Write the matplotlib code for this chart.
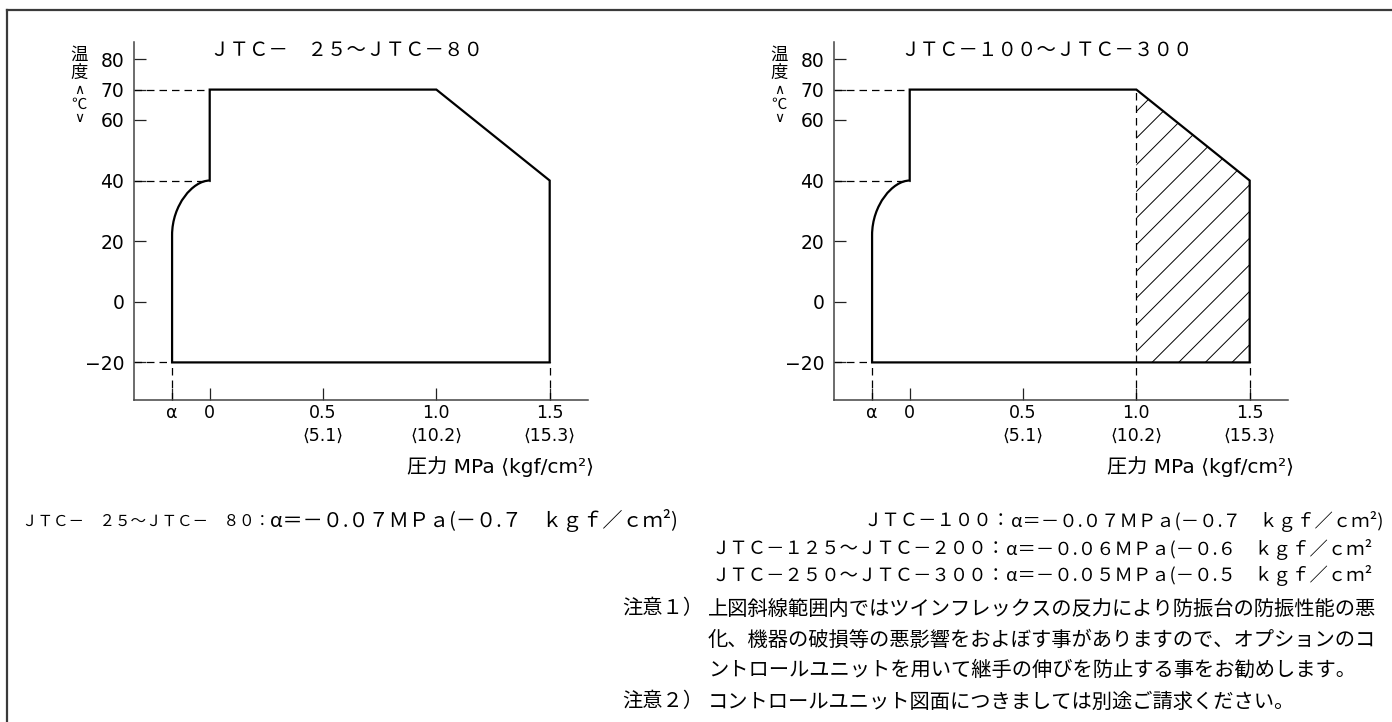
import matplotlib
matplotlib.use("Agg")
import matplotlib.pyplot as plt
from matplotlib.path import Path
from matplotlib.patches import PathPatch, Polygon
from matplotlib.lines import Line2D
import numpy as np

# ---- data ----
alpha = -0.166            # drawn position of alpha on the pressure axis (schematic)
curve_top = 40            # temperature where the rounded corner meets x=0
curve_bottom = 22         # temperature where the rounded corner leaves x=alpha
t_min, t_max = -20, 70
p_knee, t_knee = 1.0, 70  # start of the sloped edge
p_max, t_end = 1.5, 40    # end of the sloped edge

y_ticks = [-20, 0, 20, 40, 60, 70, 80]
y_labels = ["\u221220", "0", "20", "40", "60", "70", "80"]
x_ticks = [alpha, 0, 0.5, 1.0, 1.5]
x_labels = ["\u03b1", "0", "0.5\n\u27e85.1\u27e9", "1.0\n\u27e810.2\u27e9", "1.5\n\u27e815.3\u27e9"]

titles = ["ＪＴＣ－　２５～ＪＴＣ－８０",
          "ＪＴＣ－１００～ＪＴＣ－３００"]
x_title = "\u5727\u529b MPa \u27e8kgf/cm\u00b2\u27e9"

# alpha values per model group
alpha_lines = [
    ("ＪＴＣ－　２５～ＪＴＣ－　８０：", "α＝－０.０７ＭＰａ(－０.７　ｋｇｆ／ｃｍ²)"),
    ("ＪＴＣ－１００：", "α＝－０.０７ＭＰａ(－０.７　ｋｇｆ／ｃｍ²)"),
    ("ＪＴＣ－１２５～ＪＴＣ－２００：", "α＝－０.０６ＭＰａ(－０.６　ｋｇｆ／ｃｍ²"),
    ("ＪＴＣ－２５０～ＪＴＣ－３００：", "α＝－０.０５ＭＰａ(－０.５　ｋｇｆ／ｃｍ²"),
]
notes = [
    ("注意１）", "上図斜線範囲内ではツインフレックスの反力により防振台の防振性能の悪"),
    ("", "化、機器の破損等の悪影響をおよぼす事がありますので、オプションのコ"),
    ("", "ントロールユニットを用いて継手の伸びを防止する事をお勧めします。"),
    ("注意２）", "コントロールユニット図面につきましては別途ご請求ください。"),
]

W, H = 1392, 722
JP = ["Noto Sans CJK JP", "DejaVu Sans"]
LAT = ["DejaVu Sans", "Noto Sans CJK JP"]

fig = plt.figure(figsize=(W / 100, H / 100), dpi=100)
fig.patch.set_facecolor("white")


def fx(px):
    return px / W


def fy(py):
    return 1 - py / H


# outer frame (top and left edge only, the rest is cut off)
fig.add_artist(Line2D([fx(7), fx(W)], [fy(10), fy(10)], color="#3a3a3a", lw=1.6))
fig.add_artist(Line2D([fx(7), fx(7)], [fy(10), fy(H)], color="#3a3a3a", lw=1.6))


def draw_chart(left_px, title, hatched):
    ax = fig.add_axes([fx(left_px), fy(400), 454 / W, 358 / H])
    xmin, xmax = -0.334, 1.669
    ymin, ymax = -32.4, 85.7
    ax.set_xlim(xmin, xmax)
    ax.set_ylim(ymin, ymax)
    for s in ["top", "right"]:
        ax.spines[s].set_visible(False)
    for s in ["left", "bottom"]:
        ax.spines[s].set_color("#444444")
        ax.spines[s].set_linewidth(1.1)

    ax.set_yticks(y_ticks)
    ax.set_yticklabels(y_labels, fontsize=13.5, family=LAT)
    ax.set_xticks(x_ticks)
    ax.set_xticklabels(x_labels, fontsize=12.5, family=LAT, linespacing=1.3)
    ax.tick_params(axis="both", direction="in", length=8.5, width=0.9, color="#222222")
    ax.tick_params(axis="y", pad=7)
    ax.tick_params(axis="x", pad=3)

    # operating range outline
    verts = [(alpha, t_min), (alpha, curve_bottom),
             (alpha, curve_bottom + 0.55 * (curve_top - curve_bottom)),
             (alpha * 0.45, curve_top), (0, curve_top),
             (0, t_max), (p_knee, t_knee), (p_max, t_end), (p_max, t_min),
             (alpha, t_min)]
    codes = [Path.MOVETO, Path.LINETO, Path.CURVE4, Path.CURVE4, Path.CURVE4,
             Path.LINETO, Path.LINETO, Path.LINETO, Path.LINETO, Path.CLOSEPOLY]
    ax.add_patch(PathPatch(Path(verts, codes), facecolor="none", edgecolor="black",
                           lw=1.6, joinstyle="miter", zorder=3))

    # dashed guides
    dash = dict(color="black", lw=0.9, linestyle=(0, (6, 4)), clip_on=False, zorder=2)
    ax.plot([xmin, 0], [t_max, t_max], **dash)
    ax.plot([xmin, 0], [curve_top, curve_top], **dash)
    ax.plot([xmin, alpha], [t_min, t_min], **dash)
    ax.plot([alpha, alpha], [ymin, t_min], **dash)
    ax.plot([p_max, p_max], [ymin, t_min], **dash)

    if hatched:
        ax.plot([p_knee, p_knee], [ymin, t_knee], **dash)
        region = Polygon([(p_knee, t_knee), (p_max, t_end), (p_max, t_min), (p_knee, t_min)],
                         closed=True, facecolor="none", edgecolor="none")
        ax.add_patch(region)
        # 45 degree hatch lines, spacing
        px_x = 454 / (xmax - xmin)
        px_y = 358 / (ymax - ymin)
        slope = px_x / px_y
        step = 0.1176
        for x0 in np.arange(1.069 - 12 * step, p_max, step):
            ln, = ax.plot([x0, x0 + 120 / slope], [t_min, t_min + 120], color="black",
                          lw=0.7, zorder=2)
            ln.set_clip_path(region)

    ax.set_facecolor("none")

    # chart title and axis captions
    fig.text(fx(left_px + 213), fy(50), title, family=JP, fontsize=14,
             ha="center", va="center")
    fig.text(fx(left_px + 273), fy(467), x_title, family=LAT, fontsize=14.5,
             ha="left", va="center")
    # vertical y caption: 温度（℃）
    cx = fx(left_px - 55)
    fig.text(cx, fy(55), "\u6e29", family=JP, fontsize=12.5, ha="center", va="center")
    fig.text(cx, fy(73), "\u5ea6", family=JP, fontsize=12.5, ha="center", va="center")
    fig.text(cx, fy(90), "\u2227", family=LAT, fontsize=10, ha="center", va="center")
    fig.text(cx, fy(104), "\u2103", family=JP, fontsize=11, ha="center", va="center")
    fig.text(cx, fy(118), "\u2228", family=LAT, fontsize=10, ha="center", va="center")
    return ax


draw_chart(134, titles[0], False)
draw_chart(834, titles[1], True)

# ---- notes below the charts ----
renderer = fig.canvas.get_renderer()


def put(parts, x, y, ha="left"):
    items = [fig.text(0, 0, s, va="center", **kw) for s, kw in parts]
    widths = [t.get_window_extent(renderer).width for t in items]
    start = x if ha == "left" else x - sum(widths)
    for t, w in zip(items, widths):
        t.set_position((fx(start), fy(y)))
        start += w


pre_l = dict(family=JP, fontsize=11.2)
pre_r = dict(family=JP, fontsize=13.2)
tail_l = dict(family=JP, fontsize=14.5)
tail_r = dict(family=JP, fontsize=13.2)

put([(alpha_lines[0][0], pre_l), (alpha_lines[0][1], tail_l)], 22, 521)
put([(alpha_lines[1][0], pre_r), (alpha_lines[1][1], tail_r)], 1383, 521, ha="right")
put([(alpha_lines[2][0], pre_r), (alpha_lines[2][1], tail_r)], 712, 549)
put([(alpha_lines[3][0], pre_r), (alpha_lines[3][1], tail_r)], 712, 576)

note = dict(family=JP, fontsize=14.6, va="center", ha="left")
for (head, body), y in zip(notes, [609, 640, 670, 702]):
    if head:
        fig.text(fx(622), fy(y), head, **note)
    fig.text(fx(708), fy(y), body, **note)

fig.savefig("out.png", dpi=100, facecolor="white")
